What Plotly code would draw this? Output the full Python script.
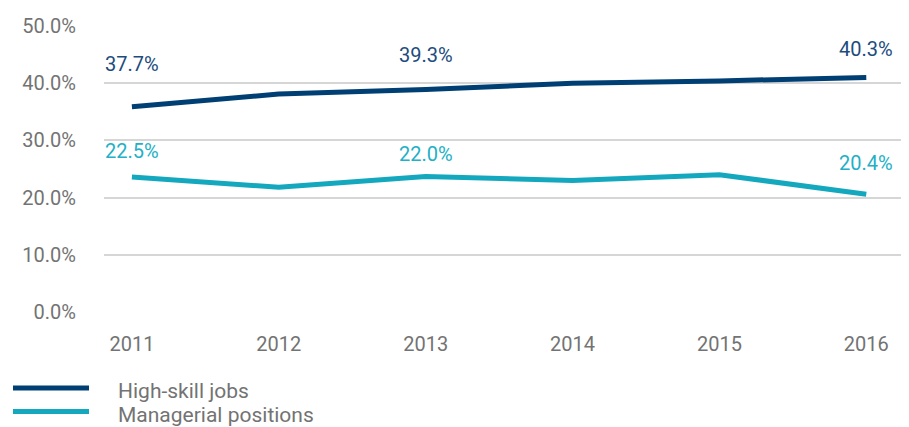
import plotly.graph_objects as go

years = [2011, 2012, 2013, 2014, 2015, 2016]
high_skill = [35.9, 38.1, 38.9, 40.0, 40.4, 41.0]
managerial = [23.6, 21.8, 23.7, 23.0, 24.0, 20.6]

label_years = [2011, 2013, 2016]
high_skill_labels = [37.7, 39.3, 40.3]
managerial_labels = [22.5, 22.0, 20.4]

y_ticks = [0, 10, 20, 30, 40, 50]
y_tick_text = ["0.0%", "10.0%", "20.0%", "30.0%", "40.0%", "50.0%"]

series_names = ["High-skill jobs", "Managerial positions"]
line_colors = ["#003F73", "#14A8BF"]
label_colors = ["#1B4C7E", "#22B0C6"]
FONT = "Roboto, 'DejaVu Sans', sans-serif"
GREY = "#737373"

# page body has an 8px margin; figure is sized so the plot area lands
# at x 104..903, y 22..312 in the window
OFF = 8
ML, MT = 104 - OFF, 22 - OFF
PW, PH = 799, 290

fig = go.Figure()
for name, vals, col in zip(series_names, [high_skill, managerial], line_colors):
    fig.add_trace(go.Scatter(x=years, y=vals, mode="lines", name=name,
                             line=dict(color=col, width=5), showlegend=False))

annotations = []
for vals, col in zip([high_skill_labels, managerial_labels], label_colors):
    for yr, v in zip(label_years, vals):
        annotations.append(dict(x=yr, y=v, xref="x", yref="y", text=f"{v:.1f}%",
                                showarrow=False, yshift=32,
                                font=dict(family=FONT, size=20, color=col)))

# manual legend (window pixel positions converted to paper coords)
leg_y = [389, 413]
for i, (name, col) in enumerate(zip(series_names, line_colors)):
    yp = (312 - leg_y[i]) / PH
    fig.add_shape(type="line", xref="paper", yref="paper",
                  x0=(13 - 104) / PW, x1=(89 - 104) / PW, y0=yp, y1=yp,
                  line=dict(color=col, width=5))
    annotations.append(dict(xref="paper", yref="paper", x=(116 - 104) / PW, y=yp,
                            xanchor="left", yanchor="middle", text=name, showarrow=False,
                            yshift=-3,
                            font=dict(family=FONT, size=21, color=GREY)))

fig.update_layout(
    width=901, height=419,
    margin=dict(l=ML, r=901 - ML - PW, t=MT, b=419 - MT - PH),
    paper_bgcolor="white", plot_bgcolor="white",
    annotations=annotations,
    showlegend=False,
    xaxis=dict(range=[2010.81, 2016.25], tickmode="array", tickvals=years,
               ticktext=[str(y) for y in years], showgrid=False, zeroline=False,
               showline=False, ticks="", ticklabelstandoff=18,
               tickfont=dict(family=FONT, size=20, color=GREY)),
    yaxis=dict(range=[0, 50], tickmode="array", tickvals=y_ticks, ticktext=y_tick_text,
               showgrid=True, gridcolor="#D6D6D6", gridwidth=2, zeroline=False,
               showline=False, ticks="", ticklabelstandoff=27,
               tickfont=dict(family=FONT, size=20, color=GREY)),
)

fig.write_html("out.html")
